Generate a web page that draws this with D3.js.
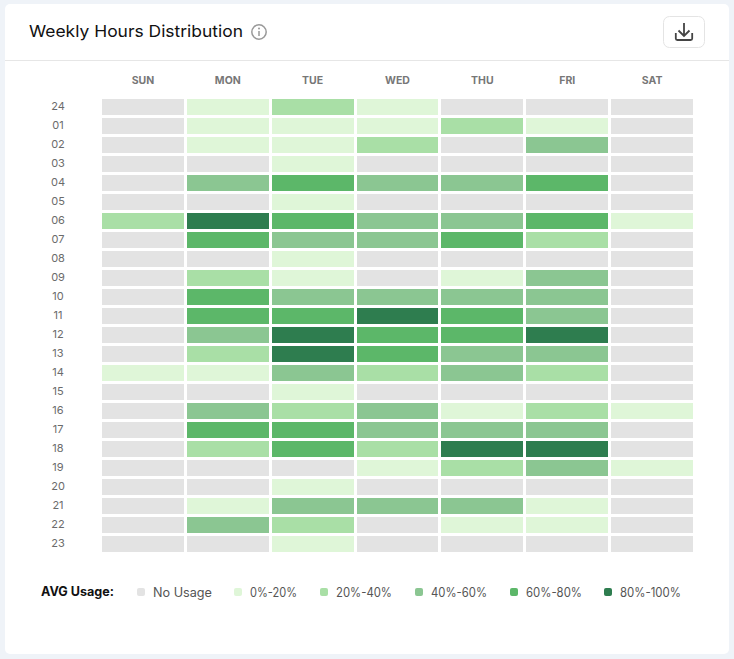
<!DOCTYPE html>
<html>
<head>
<meta charset="utf-8">
<script src="https://cdn.jsdelivr.net/npm/d3@7"></script>
<style>
  html, body { margin: 0; padding: 0; background: #eff3f8; }
  svg { display: block; font-family: Inter, "Open Sans", sans-serif; }
</style>
</head>
<body>
<svg class="chart" width="734" height="659"></svg>
<script>
// days across the top, hours down the side
var days = ["SUN", "MON", "TUE", "WED", "THU", "FRI", "SAT"];
var hours = ["24", "01", "02", "03", "04", "05", "06", "07", "08", "09", "10", "11",
             "12", "13", "14", "15", "16", "17", "18", "19", "20", "21", "22", "23"];

// usage band per cell, one row per hour: 0 = no usage ... 5 = 80%-100%
var usage = [
  [0, 1, 2, 1, 0, 0, 0],
  [0, 1, 1, 1, 2, 1, 0],
  [0, 1, 1, 2, 0, 3, 0],
  [0, 0, 1, 0, 0, 0, 0],
  [0, 3, 4, 3, 3, 4, 0],
  [0, 0, 1, 0, 0, 0, 0],
  [2, 5, 4, 3, 3, 4, 1],
  [0, 4, 3, 3, 4, 2, 0],
  [0, 0, 1, 0, 0, 0, 0],
  [0, 2, 1, 0, 1, 3, 0],
  [0, 4, 3, 3, 3, 3, 0],
  [0, 4, 4, 5, 4, 3, 0],
  [0, 3, 5, 4, 4, 5, 0],
  [0, 2, 5, 4, 3, 3, 0],
  [1, 1, 3, 2, 3, 2, 0],
  [0, 0, 1, 0, 0, 0, 0],
  [0, 3, 2, 3, 1, 2, 1],
  [0, 4, 4, 3, 3, 3, 0],
  [0, 2, 4, 2, 5, 5, 0],
  [0, 0, 0, 1, 2, 3, 1],
  [0, 0, 1, 0, 0, 0, 0],
  [0, 1, 3, 3, 3, 1, 0],
  [0, 3, 2, 0, 1, 1, 0],
  [0, 0, 1, 0, 0, 0, 0]
];

var bands = ["No Usage", "0%-20%", "20%-40%", "40%-60%", "60%-80%", "80%-100%"];
var bandColors = ["#e3e3e3", "#dff6d8", "#a9dfa6", "#8bc692", "#5cb769", "#2e7d4f"];

var svg = d3.select("svg.chart");

// card and header
svg.append("rect")
    .attr("x", 5).attr("y", 4)
    .attr("width", 724).attr("height", 650)
    .attr("rx", 5)
    .style("fill", "#fff");
svg.append("line")
    .attr("x1", 5).attr("x2", 729)
    .attr("y1", 60.5).attr("y2", 60.5)
    .style("stroke", "#e6e6e6");

svg.append("text")
    .attr("x", 29).attr("y", 37)
    .attr("textLength", 214)
    .attr("lengthAdjust", "spacingAndGlyphs")
    .style("font-size", "16.5px")
    .style("fill", "#111")
    .text("Weekly Hours Distribution");

// info icon
var info = svg.append("g").attr("transform", "translate(259,32)");
info.append("circle").attr("r", 7.2)
    .style("fill", "none").style("stroke", "#999").style("stroke-width", 1.5);
info.append("line").attr("y1", -1).attr("y2", 4)
    .style("stroke", "#999").style("stroke-width", 1.5);
info.append("circle").attr("cy", -3.5).attr("r", 1).style("fill", "#999");

// download button
svg.append("rect")
    .attr("x", 663.5).attr("y", 16.5)
    .attr("width", 41).attr("height", 31)
    .attr("rx", 6)
    .style("fill", "#fff").style("stroke", "#e4e4e4");
svg.append("path")
    .attr("d", "M684 23V35.5M678.5 30.5L684 36L689.5 30.5M675.8 33V38.5Q675.8 40 677.3 40H690.7Q692.2 40 692.2 38.5V33")
    .style("fill", "none").style("stroke", "#444").style("stroke-width", 1.8);

// scales
var x = d3.scaleBand().domain(days).range([102, 693]).paddingInner(3 / 85).paddingOuter(0);
var y = d3.scaleBand().domain(hours).range([99, 552]).paddingInner(3 / 19).paddingOuter(0);
var color = d3.scaleOrdinal().domain(d3.range(bands.length)).range(bandColors);

// axes
var xAxis = svg.append("g")
    .attr("transform", "translate(0,84)")
    .call(d3.axisTop(x).tickSize(0).tickPadding(0));
xAxis.select(".domain").remove();
xAxis.selectAll("text")
    .style("font-family", "Inter, sans-serif")
    .style("font-size", "10.5px")
    .style("font-weight", 700)
    .style("fill", "#777");

var yAxis = svg.append("g")
    .attr("transform", "translate(58,-0.6)")
    .call(d3.axisLeft(y).tickSize(0).tickPadding(0));
yAxis.select(".domain").remove();
yAxis.selectAll("text")
    .attr("text-anchor", "middle")
    .style("font-family", "Inter, sans-serif")
    .style("font-size", "11px")
    .style("fill", "#6b6b6b");

// cells
svg.selectAll("g.row")
    .data(usage)
  .enter().append("g")
    .attr("class", "row")
    .attr("transform", function(d, i) { return "translate(0," + y(hours[i]) + ")"; })
  .selectAll("rect")
    .data(function(d) { return d; })
  .enter().append("rect")
    .attr("x", function(d, i) { return x(days[i]); })
    .attr("width", x.bandwidth())
    .attr("height", y.bandwidth())
    .attr("shape-rendering", "crispEdges")
    .style("fill", function(d) { return color(d); });

// legend
var legendX = d3.scaleOrdinal().domain(bands).range([137, 234, 320, 415, 510, 604]);
var legendTextWidth = d3.scaleOrdinal().domain(bands).range([59, 47, 56, 56, 56, 61]);

svg.append("text")
    .attr("x", 41).attr("y", 596)
    .attr("textLength", 73)
    .attr("lengthAdjust", "spacingAndGlyphs")
    .style("font-size", "12.5px")
    .style("font-weight", 700)
    .style("fill", "#111")
    .text("AVG Usage:");

var legend = svg.selectAll("g.legend")
    .data(bands)
  .enter().append("g")
    .attr("class", "legend")
    .attr("transform", function(d) { return "translate(" + legendX(d) + ",592)"; });
legend.append("rect")
    .attr("y", -4)
    .attr("width", 8).attr("height", 8)
    .attr("rx", 2)
    .style("fill", function(d, i) { return bandColors[i]; });
legend.append("text")
    .attr("x", 16).attr("y", 4.5)
    .attr("textLength", function(d) { return legendTextWidth(d); })
    .attr("lengthAdjust", "spacingAndGlyphs")
    .style("font-size", "12.5px")
    .style("fill", "#555")
    .text(function(d) { return d; });
</script>
</body>
</html>
